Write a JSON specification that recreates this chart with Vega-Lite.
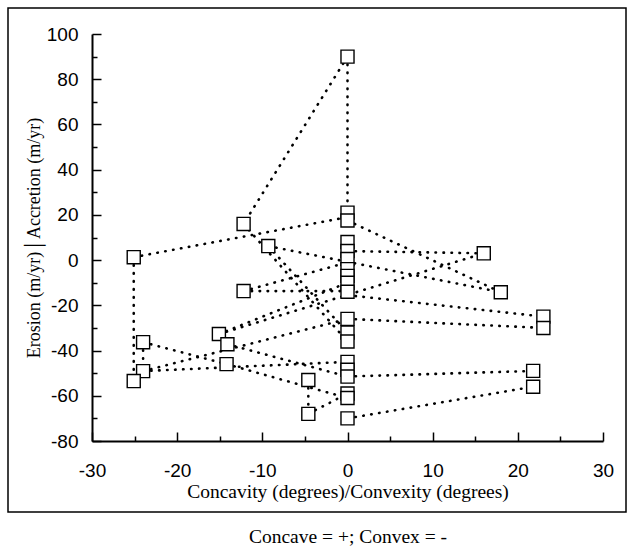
{
  "$schema": "https://vega.github.io/schema/vega-lite/v6.json",
  "width": 618,
  "height": 504,
  "autosize": {"type": "none"},
  "padding": {"left": 8, "top": 8, "right": 8, "bottom": 42},
  "background": "white",
  "config": {
    "view": {"stroke": "black", "strokeWidth": 1.5},
    "axis": {"grid": false}
  },
  "title": {
    "text": "Concave = +; Convex = -",
    "orient": "bottom",
    "font": "Liberation Serif",
    "fontSize": 19.5,
    "fontWeight": "normal",
    "color": "black",
    "offset": 16,
    "dx": 31
  },
  "datasets": {
    "pts": [
      {"x": 0, "y": 90}, {"x": 0, "y": 21}, {"x": 0, "y": 17.5},
      {"x": 0, "y": 8}, {"x": 0, "y": 4}, {"x": 0, "y": 0.5}, {"x": 0, "y": -4}, {"x": 0, "y": -7}, {"x": 0, "y": -10}, {"x": 0, "y": -14},
      {"x": 0, "y": -26}, {"x": 0, "y": -32}, {"x": 0, "y": -36},
      {"x": 0, "y": -45}, {"x": 0, "y": -48.5}, {"x": 0, "y": -51.5},
      {"x": 0, "y": -59}, {"x": 0, "y": -61}, {"x": 0, "y": -70},
      {"x": -12.2, "y": 16}, {"x": -9.3, "y": 6.2}, {"x": -25.1, "y": 1.3},
      {"x": 16, "y": 3}, {"x": 18, "y": -14.2}, {"x": -12.2, "y": -13.7},
      {"x": -15.1, "y": -32.7}, {"x": -14.1, "y": -37.2}, {"x": -14.2, "y": -46},
      {"x": -24, "y": -36.3}, {"x": -24, "y": -49.1}, {"x": -25.1, "y": -53.5},
      {"x": -4.6, "y": -53}, {"x": -4.6, "y": -68},
      {"x": 23, "y": -25}, {"x": 23, "y": -30}, {"x": 21.8, "y": -49}, {"x": 21.8, "y": -56}
    ],
    "segs": [
      {"seg": 1, "o": 0, "x": 0, "y": 90}, {"seg": 1, "o": 1, "x": -12.2, "y": 16},
      {"seg": 2, "o": 0, "x": 0, "y": 90}, {"seg": 2, "o": 1, "x": 0, "y": 21},
      {"seg": 3, "o": 0, "x": -25.1, "y": 1.3}, {"seg": 3, "o": 1, "x": 0, "y": 19},
      {"seg": 4, "o": 0, "x": -25.1, "y": 1.3}, {"seg": 4, "o": 1, "x": -25.1, "y": -53.5},
      {"seg": 5, "o": 0, "x": -12.2, "y": 16}, {"seg": 5, "o": 1, "x": 0, "y": -36},
      {"seg": 6, "o": 0, "x": -9.3, "y": 6.2}, {"seg": 6, "o": 1, "x": 0, "y": -32},
      {"seg": 7, "o": 0, "x": -9.3, "y": 6.2}, {"seg": 7, "o": 1, "x": 18, "y": -14.2},
      {"seg": 8, "o": 0, "x": 0, "y": 17.5}, {"seg": 8, "o": 1, "x": 18, "y": -14.2},
      {"seg": 9, "o": 0, "x": 0, "y": 4}, {"seg": 9, "o": 1, "x": 16, "y": 3},
      {"seg": 10, "o": 0, "x": -12.2, "y": -13.7}, {"seg": 10, "o": 1, "x": 0, "y": -13.7},
      {"seg": 11, "o": 0, "x": -12.2, "y": -13.7}, {"seg": 11, "o": 1, "x": 0, "y": -1},
      {"seg": 12, "o": 0, "x": -15.1, "y": -32.7}, {"seg": 12, "o": 1, "x": 16, "y": 3},
      {"seg": 13, "o": 0, "x": 0, "y": -15.5}, {"seg": 13, "o": 1, "x": 23, "y": -25},
      {"seg": 14, "o": 0, "x": 0, "y": -26}, {"seg": 14, "o": 1, "x": 23, "y": -30},
      {"seg": 15, "o": 0, "x": -24, "y": -36.3}, {"seg": 15, "o": 1, "x": -14.2, "y": -46},
      {"seg": 16, "o": 0, "x": -14.2, "y": -46}, {"seg": 16, "o": 1, "x": 0, "y": -61},
      {"seg": 17, "o": 0, "x": -4.6, "y": -53}, {"seg": 17, "o": 1, "x": -4.6, "y": -68},
      {"seg": 18, "o": 0, "x": -4.6, "y": -68}, {"seg": 18, "o": 1, "x": 0, "y": -59},
      {"seg": 19, "o": 0, "x": 0, "y": -51.5}, {"seg": 19, "o": 1, "x": 21.8, "y": -49},
      {"seg": 20, "o": 0, "x": 0, "y": -70}, {"seg": 20, "o": 1, "x": 21.8, "y": -56},
      {"seg": 21, "o": 0, "x": -24, "y": -49.1}, {"seg": 21, "o": 1, "x": 0, "y": -26},
      {"seg": 22, "o": 0, "x": -15.1, "y": -32.7}, {"seg": 22, "o": 1, "x": 0, "y": -10},
      {"seg": 23, "o": 0, "x": -14.1, "y": -37.2}, {"seg": 23, "o": 1, "x": 0, "y": -51.5},
      {"seg": 24, "o": 0, "x": -24, "y": -49.1}, {"seg": 24, "o": 1, "x": 0, "y": -45},
      {"seg": 25, "o": 0, "x": -24, "y": -36.3}, {"seg": 25, "o": 1, "x": -24, "y": -49.1}
    ]
  },
  "resolve": {"axis": {"x": "independent", "y": "independent"}},
  "layer": [
    {
      "data": {"name": "segs"},
      "mark": {"type": "line", "color": "black", "strokeWidth": 2.6, "strokeDash": [0.5, 7.5], "strokeCap": "round"},
      "encoding": {
        "x": {
          "field": "x", "type": "quantitative",
          "scale": {"domain": [-30, 30], "range": [84, 595], "nice": false, "zero": false},
          "axis": {
            "orient": "bottom", "offset": -71,
            "values": [-30, -20, -10, 0, 10, 20, 30],
            "labelExpr": "'' + datum.value",
            "tickSize": -9,
            "tickColor": "black", "tickWidth": 1.5,
            "domainColor": "black", "domainWidth": 2,
            "labelFont": "Liberation Sans", "labelFontSize": 19, "labelColor": "black", "labelPadding": 29,
            "labelFlush": false, "labelOverlap": false,
            "title": "Concavity (degrees)/Convexity (degrees)",
            "titleFont": "Liberation Serif", "titleFontSize": 19.5, "titleFontWeight": "normal", "titleColor": "black",
            "titlePadding": 2
          }
        },
        "y": {
          "field": "y", "type": "quantitative",
          "scale": {"domain": [-80, 100], "range": [433, 26], "nice": false, "zero": false},
          "axis": {
            "orient": "left", "offset": -84,
            "values": [-80, -60, -40, -20, 0, 20, 40, 60, 80, 100],
            "labelExpr": "'' + datum.value",
            "tickSize": -9,
            "tickColor": "black", "tickWidth": 1.5,
            "domainColor": "black", "domainWidth": 2,
            "labelFont": "Liberation Sans", "labelFontSize": 19, "labelColor": "black", "labelPadding": 23,
            "labelFlush": false, "labelOverlap": false,
            "title": "Erosion (m/yr)│Accretion (m/yr)",
            "titleFont": "Liberation Serif", "titleFontSize": 18, "titleFontWeight": "normal", "titleColor": "black",
            "titlePadding": 3
          }
        },
        "detail": {"field": "seg", "type": "nominal"},
        "order": {"field": "o", "type": "quantitative"}
      }
    },
    {
      "data": {"name": "pts"},
      "mark": {"type": "point", "shape": "square", "filled": true, "fill": "white", "stroke": "black", "strokeWidth": 1.4, "size": 170, "opacity": 1},
      "encoding": {
        "x": {
          "field": "x", "type": "quantitative",
          "axis": {
            "orient": "bottom", "offset": -71,
            "values": [-25, -15, -5, 5, 15, 25],
            "tickSize": -5, "tickColor": "black", "tickWidth": 1.5,
            "domain": false, "labels": false, "title": null
          }
        },
        "y": {
          "field": "y", "type": "quantitative",
          "axis": {
            "orient": "left", "offset": -84,
            "values": [-70, -50, -30, -10, 10, 30, 50, 70, 90],
            "tickSize": -5, "tickColor": "black", "tickWidth": 1.5,
            "domain": false, "labels": false, "title": null
          }
        }
      }
    }
  ]
}
